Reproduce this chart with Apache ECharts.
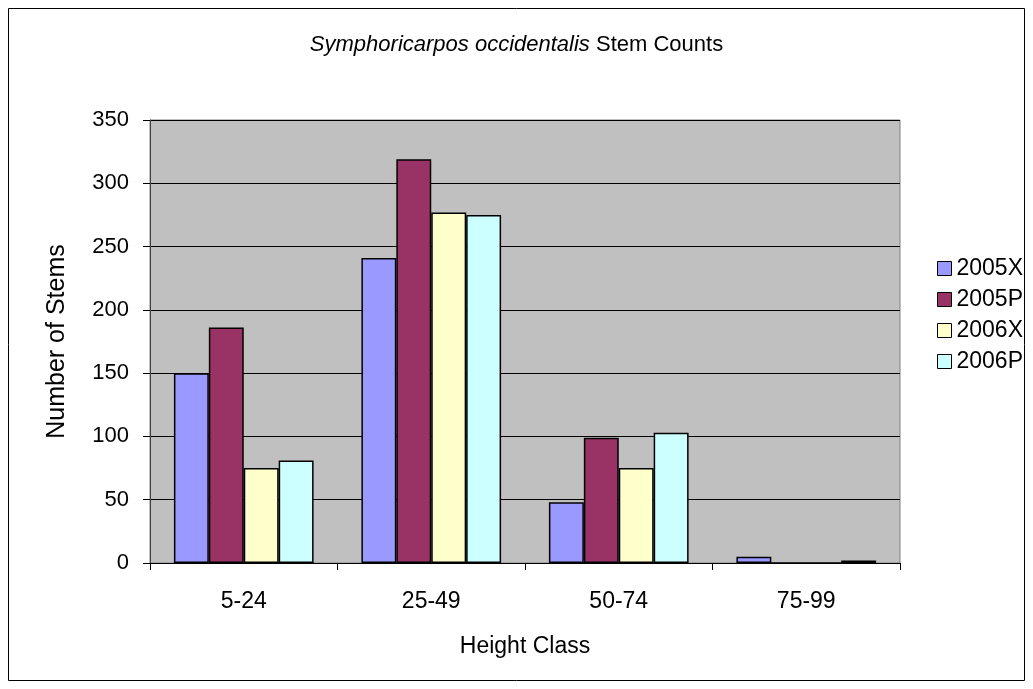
<!DOCTYPE html>
<html><head><meta charset="utf-8">
<script src="https://cdn.jsdelivr.net/npm/echarts@6/dist/echarts.min.js"></script>
<style>html,body{margin:0;padding:0;background:#fff}#c{width:1033px;height:689px}</style>
</head><body><div id="c"></div>
<script>
const categories = ['5-24', '25-49', '50-74', '75-99'];
const s2005X = [150, 241, 48, 5];
const s2005P = [186, 319, 99, 0];
const s2006X = [75, 277, 75, 0];
const s2006P = [81, 275, 103, 2];
const seriesNames = ['2005X', '2005P', '2006X', '2006P'];
const yTicks = [0, 50, 100, 150, 200, 250, 300, 350];

const colors = ['#9999ff', '#993366', '#ffffcc', '#ccffff'];
const font = 'Liberation Sans, Arial, sans-serif';
const FS = 23;
const chart = echarts.init(document.getElementById('c'));
const data = [s2005X, s2005P, s2006X, s2006P];
chart.setOption({
  animation: false,
  backgroundColor: '#fff',
  textStyle: {fontFamily: font},
  graphic: [{type: 'rect', shape: {x: 8.5, y: 8.5, width: 1016, height: 672}, style: {fill: 'none', stroke: '#000', lineWidth: 1}, z: -1}],
  title: {
    text: '{i|Symphoricarpos occidentalis} {n|Stem Counts}',
    left: 'center', top: 29,
    textStyle: {fontWeight: 'normal', fontSize: 22, rich: {
      i: {fontStyle: 'italic', fontWeight: 'normal', fontSize: 22, fontFamily: font, color: '#000'},
      n: {fontWeight: 'normal', fontSize: 22, fontFamily: font, color: '#000'}
    }}
  },
  legend: {
    orient: 'vertical', left: 932, top: 252, itemGap: 8,
    itemWidth: 14, itemHeight: 14, icon: 'rect',
    textStyle: {fontSize: FS, fontFamily: font, color: '#000'},
    data: seriesNames.map(n => ({name: n, itemStyle: {borderColor: '#000', borderWidth: 1}}))
  },
  grid: {left: 150, right: 133, top: 120, bottom: 126, show: true, backgroundColor: '#c0c0c0', borderColor: '#808080', borderWidth: 1},
  xAxis: {
    type: 'category', data: categories,
    name: 'Height Class', nameLocation: 'middle', nameGap: 72,
    nameTextStyle: {fontSize: FS, color: '#000', fontFamily: font},
    axisLine: {lineStyle: {color: '#000', width: 1}},
    axisTick: {show: true, length: 7, lineStyle: {color: '#000'}},
    axisLabel: {fontSize: FS, color: '#000', margin: 27, fontFamily: font}
  },
  yAxis: {
    type: 'value', min: 0, max: 350, interval: 50,
    name: 'Number of Stems', nameLocation: 'middle', nameGap: 80,
    nameTextStyle: {fontSize: 25, color: '#000', fontFamily: font},
    axisLine: {show: true, lineStyle: {color: '#404040', width: 1}},
    axisTick: {show: true, length: 7, lineStyle: {color: '#000'}},
    axisLabel: {fontSize: 22, color: '#000', margin: 21, fontFamily: font,
      formatter: v => yTicks.includes(v) ? String(v) : ''},
    splitLine: {lineStyle: {color: '#000', width: 1}}
  },
  series: seriesNames.map((n, i) => ({
    name: n, type: 'bar', data: data[i],
    barGap: '0%', barCategoryGap: '25.5%',
    itemStyle: {color: colors[i], borderColor: '#000', borderWidth: 1.5}
  }))
});
</script></body></html>
